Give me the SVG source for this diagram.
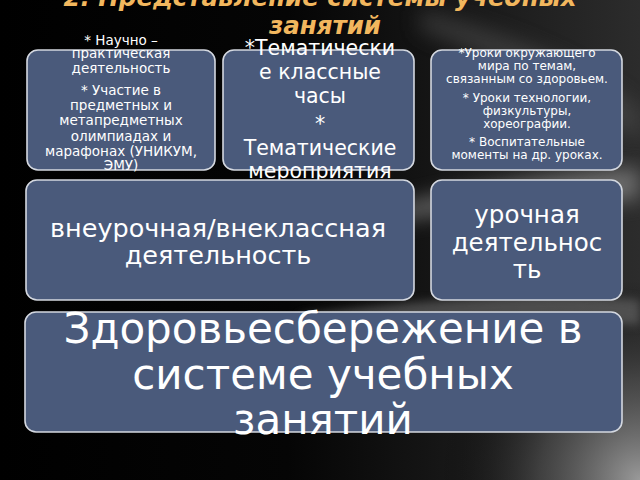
<svg xmlns="http://www.w3.org/2000/svg" width="640" height="480" viewBox="0 0 640 480">
<defs>
<style>
.box{fill:#4a5a7b;stroke:#d4d8e0;stroke-width:1.6}
.t{fill:#ffffff;font-family:"DejaVu Sans","Noto Sans",sans-serif;text-anchor:middle}
.title{fill:#f2b75e;font-family:"DejaVu Sans","Noto Sans",sans-serif;font-weight:bold;font-style:italic;font-size:24.5px;text-anchor:middle}
</style>
<linearGradient id="bg" x1="0" y1="0" x2="1" y2="0">
<stop offset="0" stop-color="#000"/>
<stop offset="0.45" stop-color="#050505"/>
<stop offset="1" stop-color="#2c2c2c"/>
</linearGradient>
<radialGradient id="br" cx="640" cy="480" r="200" gradientUnits="userSpaceOnUse">
<stop offset="0" stop-color="#9a9a9a"/>
<stop offset="0.5" stop-color="#555" stop-opacity="0.6"/>
<stop offset="1" stop-color="#000" stop-opacity="0"/>
</radialGradient>
<filter id="blur" x="-50%" y="-50%" width="200%" height="200%"><feGaussianBlur stdDeviation="10"/></filter>
<filter id="blur2" x="-50%" y="-50%" width="200%" height="200%"><feGaussianBlur stdDeviation="5"/></filter>
</defs>
<rect width="640" height="480" fill="url(#bg)"/>
<g id="background-light">
<rect x="380" y="280" width="260" height="200" fill="url(#br)"/>
<path d="M360 215 C450 190 560 170 640 168 L640 200 C560 200 460 210 360 225 Z" fill="#8a8a8a" opacity="0.7" filter="url(#blur)"/>
<path d="M300 315 C420 300 540 290 640 300 L640 325 C540 318 420 322 300 328 Z" fill="#6a6a6a" opacity="0.6" filter="url(#blur2)"/>
<path d="M420 10 C500 30 580 60 640 110 L640 140 C580 100 500 60 420 30 Z" fill="#555" opacity="0.5" filter="url(#blur)"/>
</g>
<g id="title">
<text class="title" x="320" y="6">2. Представление системы учебных</text>
<text class="title" x="325" y="34">занятий</text>
</g>
<g id="node-science">
<rect class="box" x="27" y="50" width="188" height="120" rx="11"/>
<text class="t" font-size="13.5"><tspan x="121" y="45">*  Научно –</tspan><tspan x="121" y="58">практическая</tspan><tspan x="121" y="73">деятельность</tspan><tspan x="121" y="95">* Участие в</tspan><tspan x="121" y="110">предметных и</tspan><tspan x="121" y="125">метапредметных</tspan><tspan x="121" y="141">олимпиадах и</tspan><tspan x="121" y="156">марафонах (УНИКУМ,</tspan><tspan x="121" y="170">ЭМУ)</tspan></text>
</g>
<g id="node-thematic">
<rect class="box" x="223" y="50" width="191" height="120" rx="11"/>
<text class="t" font-size="20.5"><tspan x="320" y="55">*Тематически</tspan><tspan x="320" y="79">е классные</tspan><tspan x="320" y="103">часы</tspan><tspan x="320" y="131">*</tspan><tspan x="320" y="155">Тематические</tspan><tspan x="320" y="178">мероприятия</tspan></text>
</g>
<g id="node-lessons">
<rect class="box" x="431" y="50" width="191" height="120" rx="11"/>
<text class="t" font-size="12"><tspan x="527" y="57">*Уроки окружающего</tspan><tspan x="527" y="70">мира по темам,</tspan><tspan x="527" y="83">связанным со здоровьем.</tspan><tspan x="527" y="102">* Уроки технологии,</tspan><tspan x="527" y="115">физкультуры,</tspan><tspan x="527" y="128">хореографии.</tspan><tspan x="527" y="146">* Воспитательные</tspan><tspan x="527" y="159">моменты на др. уроках.</tspan></text>
</g>
<g id="node-extracurricular">
<rect class="box" x="26" y="180" width="388" height="120" rx="11"/>
<text class="t" font-size="25.5"><tspan x="218" y="237">внеурочная/внеклассная</tspan><tspan x="218" y="264">деятельность</tspan></text>
</g>
<g id="node-classroom">
<rect class="box" x="431" y="180" width="191" height="120" rx="11"/>
<text class="t" font-size="24.5"><tspan x="527" y="223">урочная</tspan><tspan x="527" y="251">деятельнос</tspan><tspan x="527" y="278">ть</tspan></text>
</g>
<g id="node-health">
<rect class="box" x="25" y="312" width="597" height="120" rx="11"/>
<text class="t" font-size="42"><tspan x="323" y="343">Здоровьесбережение в</tspan><tspan x="323" y="389">системе учебных</tspan><tspan x="323" y="434">занятий</tspan></text>
</g>
<g id="connectors"/>
</svg>
